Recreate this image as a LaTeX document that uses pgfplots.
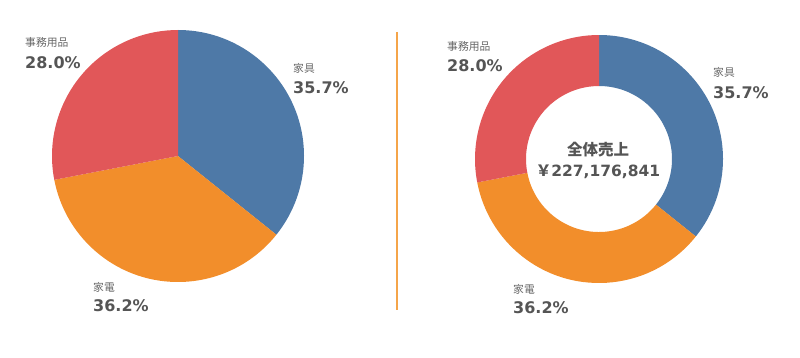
\documentclass[border=0pt]{standalone}
\usepackage{pgfplots}
\pgfplotsset{compat=1.18}
\usepackage{pgfplotstable}
\usepackage{fontspec}
\setmainfont{DejaVu Sans}
\newfontfamily\jp{Noto Sans CJK JP}
\definecolor{cBlue}{HTML}{4E79A7}
\definecolor{cOrange}{HTML}{F28E2B}
\definecolor{cRed}{HTML}{E15759}
\definecolor{cLine}{HTML}{F5A54A}
\definecolor{cTxt}{HTML}{555555}
\definecolor{cLab}{HTML}{666666}
\pgfplotstableread{
cat val
家具 35.7
家電 36.2
事務用品 28.0
}\sales
\pgfplotstablegetelem{0}{val}\of\sales \let\vA\pgfplotsretval
\pgfplotstablegetelem{1}{val}\of\sales \let\vB\pgfplotsretval
\pgfplotstablegetelem{2}{val}\of\sales \let\vC\pgfplotsretval
\pgfmathsetmacro\vSum{\vA+\vB+\vC}
\pgfmathsetmacro\aA{360*\vA/\vSum}
\pgfmathsetmacro\aB{360*\vB/\vSum}
\pgfmathsetmacro\aC{360*\vC/\vSum}
\pgfmathsetmacro\sA{90}
\pgfmathsetmacro\sB{90-\aA}
\pgfmathsetmacro\sC{90-\aA-\aB}
\newcommand{\slice}[4]{% color, start, delta, radius
  \fill[#1] (axis cs:0,0) -- ++(#2:#4) arc[start angle=#2, delta angle=-#3, radius=#4] -- cycle;}
\newcommand{\ring}[5]{% color, start, delta, outer, inner
  \fill[#1,shift={(axis cs:0,0)}] (#2:#4) arc[start angle=#2, delta angle=-#3, radius=#4]
    -- ({#2-#3}:#5) arc[start angle={#2-#3}, delta angle=#3, radius=#5] -- cycle;}
\newcommand{\lab}[4]{% x, y(baseline of pct), name, pct ; name baseline given separately
}
\begin{document}
\begin{tikzpicture}[x=1pt,y=1pt]
\useasboundingbox (0,0) rectangle (800,357);
% left pie
\begin{axis}[at={(178pt,201pt)}, anchor=origin, width=252pt, height=252pt,
  scale only axis, xmin=-1, xmax=1, ymin=-1, ymax=1, hide axis, clip=false]
  \slice{cBlue}{\sA}{\aA}{126pt}
  \slice{cOrange}{\sB}{\aB}{126pt}
  \slice{cRed}{\sC}{\aC}{126pt}
\end{axis}
% right donut
\begin{axis}[at={(599pt,198pt)}, anchor=origin, width=248pt, height=248pt,
  scale only axis, xmin=-1, xmax=1, ymin=-1, ymax=1, hide axis, clip=false]
  \ring{cBlue}{\sA}{\aA}{124pt}{73pt}
  \ring{cOrange}{\sB}{\aB}{124pt}{73pt}
  \ring{cRed}{\sC}{\aC}{124pt}{73pt}
\end{axis}
% divider
\draw[cLine, line width=1.6pt] (397,{357-32}) -- (397,{357-310});
% labels
\tikzset{nm/.style={anchor=base west, inner sep=0pt, text=cLab, font=\jp\fontsize{10.8}{12}\selectfont},
  pc/.style={anchor=base west, inner sep=0pt, text=cTxt, font=\bfseries\fontsize{16}{18}\selectfont}}
\node[nm] at (25,{357-47}) {事務用品};
\node[pc] at (25,{357-68}) {28.0\%};
\node[nm] at (293,{357-73}) {家具};
\node[pc] at (293,{357-93}) {35.7\%};
\node[nm] at (93,{357-291}) {家電};
\node[pc] at (93,{357-311}) {36.2\%};
\node[nm] at (447,{357-51}) {事務用品};
\node[pc] at (447,{357-71}) {28.0\%};
\node[nm] at (713,{357-77}) {家具};
\node[pc] at (713,{357-98}) {35.7\%};
\node[nm] at (513,{357-293}) {家電};
\node[pc] at (513,{357-313}) {36.2\%};
% center
\node[anchor=base, inner sep=0pt, text=cTxt, font=\jp\bfseries\fontsize{15.5}{17}\selectfont] at (598,{357-155}) {全体売上};
\node[anchor=base, inner sep=0pt, text=cTxt, font=\bfseries\fontsize{15.5}{17}\selectfont] at (598,{357-176}) {{\jp ￥}227,176,841};
\end{tikzpicture}
\end{document}
